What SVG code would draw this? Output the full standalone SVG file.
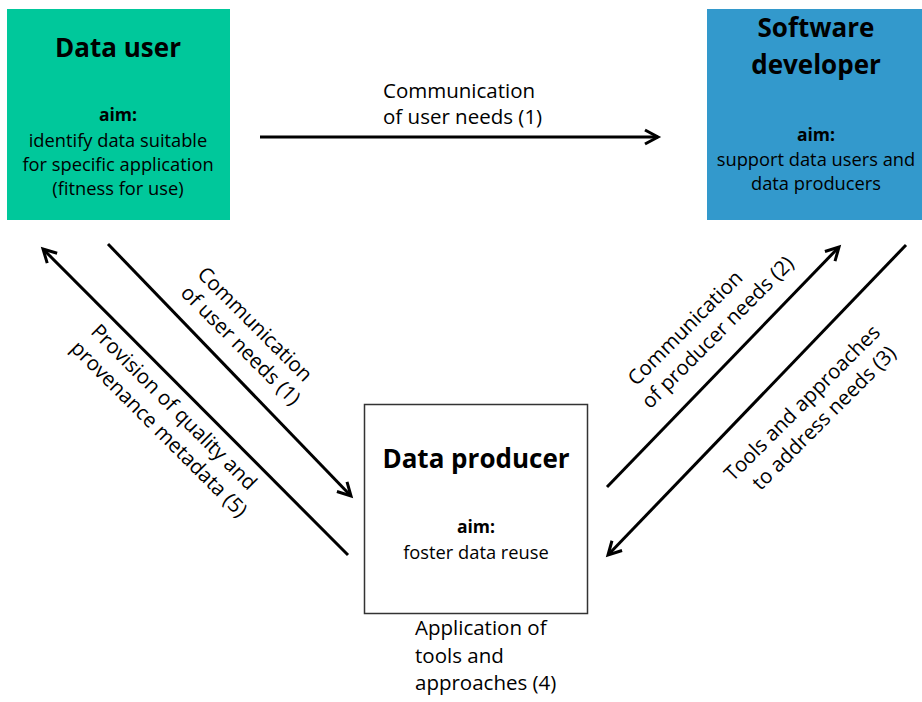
<svg xmlns="http://www.w3.org/2000/svg" width="922" height="702" viewBox="0 0 922 702">
<defs>
<marker id="ah" markerUnits="userSpaceOnUse" viewBox="-16 -10 20 20" refX="0" refY="0" markerWidth="20" markerHeight="20" orient="auto" overflow="visible">
<path d="M-13,-7 L0,0 L-13,7" fill="none" stroke="#000" stroke-width="3" stroke-linejoin="miter"/>
</marker>
<style>
text{font-family:"Open Sans","Noto Sans","Liberation Sans",sans-serif;fill:#000}
.t{font-weight:bold;font-size:26px;text-anchor:middle}
.a{font-weight:bold;font-size:17.5px;text-anchor:middle}
.b{font-size:18.3px;text-anchor:middle}
.l{font-size:20.5px}
.c{stroke:#000;stroke-width:3;fill:none;marker-end:url(#ah)}
</style>
</defs>
<rect width="922" height="702" fill="#fff"/>
<g id="data-user">
<rect x="7" y="9" width="223" height="211" fill="#00C89B"/>
<text class="t" x="118" y="57">Data user</text>
<text class="a" x="118" y="121">aim:</text>
<text class="b" x="118" y="147">identify data suitable</text>
<text class="b" x="118" y="171">for specific application</text>
<text class="b" x="118" y="195">(fitness for use)</text>
</g>
<g id="software-developer">
<rect x="707" y="9" width="215" height="211" fill="#3399CC"/>
<text class="t" x="816" y="37">Software</text>
<text class="t" x="816" y="74">developer</text>
<text class="a" x="816" y="141">aim:</text>
<text class="b" x="816" y="166">support data users and</text>
<text class="b" x="816" y="190">data producers</text>
</g>
<g id="data-producer">
<rect x="364.5" y="404.5" width="223" height="209" fill="#fff" stroke="#333" stroke-width="1.5"/>
<text class="t" x="476" y="468">Data producer</text>
<text class="a" x="476" y="533">aim:</text>
<text class="b" x="476" y="559">foster data reuse</text>
</g>
<g id="connectors">
<line class="c" x1="260" y1="137" x2="658" y2="137"/>
<line class="c" x1="108" y1="244" x2="351" y2="496"/>
<line class="c" x1="348" y1="555" x2="43" y2="249"/>
<line class="c" x1="607" y1="487" x2="839" y2="247"/>
<line class="c" x1="906" y1="245" x2="608" y2="555"/>
</g>
<g id="labels">
<text class="l" x="383" y="98">Communication</text>
<text class="l" x="383" y="124">of user needs (1)</text>
<g transform="translate(250,329) rotate(45)">
<text class="l" text-anchor="middle" x="0" y="0">Communication</text>
<text class="l" text-anchor="middle" x="5" y="25">of user needs (1)</text>
</g>
<g transform="translate(169,412) rotate(45)">
<text class="l" text-anchor="middle" x="0" y="0">Provision of quality and</text>
<text class="l" text-anchor="middle" x="5" y="26">provenance metadata (5)</text>
</g>
<g transform="translate(690,333) rotate(-45)">
<text class="l" text-anchor="middle" x="0" y="0">Communication</text>
<text class="l" text-anchor="middle" x="20" y="26">of producer needs (2)</text>
</g>
<g transform="translate(807,408) rotate(-45)">
<text class="l" text-anchor="middle" x="0" y="0">Tools and approaches</text>
<text class="l" text-anchor="middle" x="5" y="26">to address needs (3)</text>
</g>
<text class="l" x="415" y="635">Application of</text>
<text class="l" x="415" y="663">tools and</text>
<text class="l" x="415" y="690">approaches (4)</text>
</g>
</svg>
